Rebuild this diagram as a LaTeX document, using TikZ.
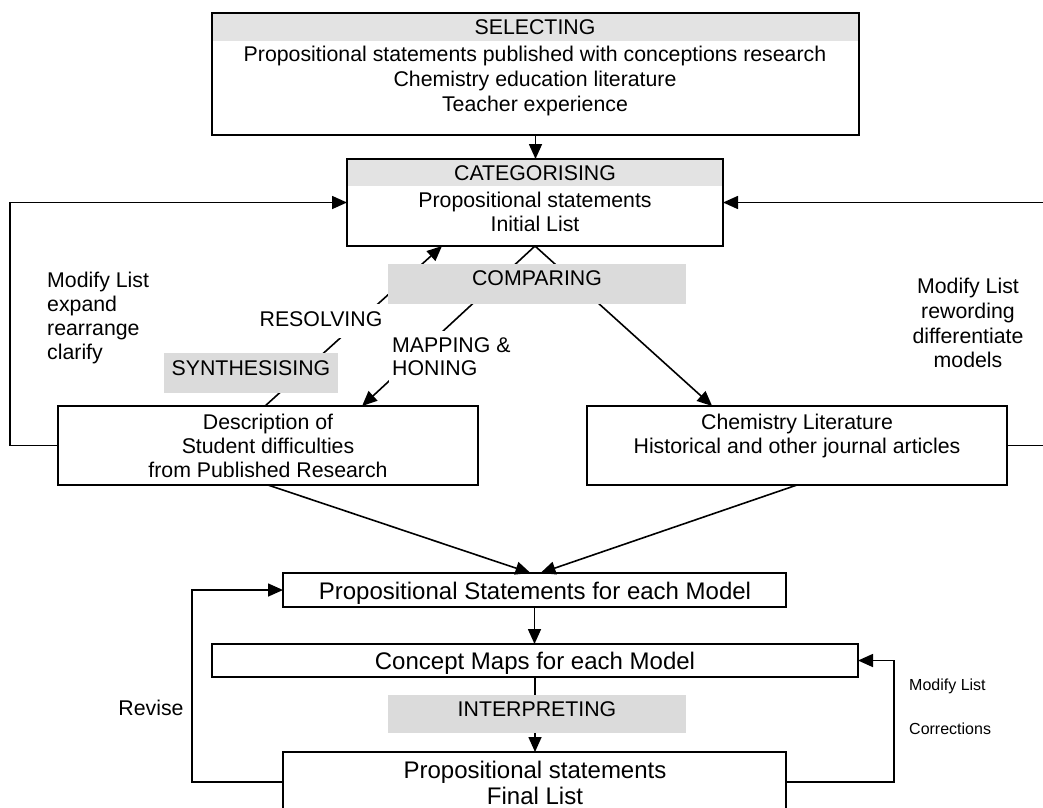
\documentclass[tikz,border=0pt]{standalone}
\usepackage{fontspec}
\setmainfont{Liberation Sans}
\usetikzlibrary{arrows.meta,calc}
\begin{document}
\begin{tikzpicture}[x=1pt,y=-1pt,
  box/.style={draw, line width=2pt, inner sep=0pt, outer sep=0pt},
  band/.style={fill=black!11, draw=none},
  graybox/.style={fill=black!14, draw=none, inner sep=0pt},
  conn/.style={line width=1.6pt, -{Triangle[length=15pt,width=13pt]}},
  t/.style={font=\fontsize{21.3pt}{24pt}\selectfont, inner sep=0pt, anchor=base},
  tb/.style={font=\fontsize{24pt}{27pt}\selectfont, inner sep=0pt, anchor=base},
  ts/.style={font=\fontsize{16pt}{19pt}\selectfont, inner sep=0pt, anchor=base west},
  mask/.style={fill=white, inner xsep=3pt, inner ysep=5pt}]
\useasboundingbox (0,0) rectangle (1043,807);
\fill[white] (0,0) rectangle (1043,807);

% boxes
\node[box, minimum width=647pt, minimum height=122pt] (sel) at (535.5,74) {};
\node[box, minimum width=376pt, minimum height=87pt] (cat) at (535,202.5) {};
\node[box, minimum width=420pt, minimum height=79pt] (desc) at (268,445.5) {};
\node[box, minimum width=420pt, minimum height=79pt] (chem) at (797,445.5) {};
\node[box, minimum width=503pt, minimum height=34pt] (psem) at (534.5,590) {};
\node[box, minimum width=646pt, minimum height=33pt] (cmap) at (535,660.5) {};
\node[box, minimum width=503pt, minimum height=60pt] (final) at (534.5,782) {};

% header bands
\fill[band] (sel.north west) rectangle ($(sel.north east)+(0,28)$);
\fill[band] (cat.north west) rectangle ($(cat.north east)+(0,27)$);
\draw[line width=2pt] (sel.north west) rectangle (sel.south east);
\draw[line width=2pt] (cat.north west) rectangle (cat.south east);

% connection points
\coordinate (resEnd) at ($(cat.south west)!0.2527!(cat.south east)$);
\coordinate (mapEnd) at ($(desc.north west)!0.724!(desc.north east)$);
\coordinate (chemEnd) at ($(chem.north west)!0.298!(chem.north east)$);
\coordinate (resStart) at ($(desc.north west)!0.493!(desc.north east)$);

% connectors
\draw[conn] (sel.south) -- (sel.south |- cat.north);
\draw[conn] (resStart) -- (resEnd);
\draw[conn] (cat.south) -- (mapEnd);
\draw[conn] (cat.south) -- (chemEnd);
\draw[conn] (desc.west) -- ++(-48,0) |- (cat.west);
\draw[conn] (chem.east) -- ++(39,0) |- (cat.east);
\draw[conn] (desc.south) -- ($(psem.north)+(-4,0)$);
\draw[conn] (chem.south) -- ($(psem.north)+(6,0)$);
\draw[conn] (psem.south) -- (psem.south |- cmap.north);
\draw[conn] (cmap.south) -- (cmap.south |- final.north);
\draw[conn] (final.west) -- ++(-91,0) |- (psem.west);
\draw[conn] (final.east) -- ++(108,0) |- (cmap.east);

% gray label boxes
\node[graybox, minimum width=298pt, minimum height=40pt] (cmpbox) at (537,284) {};
\node[graybox, minimum width=174pt, minimum height=40pt] (synbox) at (251,373) {};
\node[graybox, minimum width=298pt, minimum height=38pt] (intbox) at (537,714) {};

% texts
\node[t] (selA) at (535,34) {SELECTING};
\node[t] (selB) at (535,61) {Propositional statements published with conceptions research};
\node[t] (selC) at (535,86) {Chemistry education literature};
\node[t] (selD) at (535,111) {Teacher experience};

\node[t] (catA) at (535,180) {CATEGORISING};
\node[t] (catB) at (535,207.5) {Propositional statements};
\node[t] (catC) at (535,231.5) {Initial List};

\node[t, anchor=base west] (lmA) at (47,287.5) {Modify List};
\node[t, anchor=base west] (lmB) at (47,311) {expand};
\node[t, anchor=base west] (lmC) at (47,335.5) {rearrange};
\node[t, anchor=base west] (lmD) at (47,359) {clarify};

\node[t] (rmA) at (968,293.5) {Modify List};
\node[t] (rmB) at (968,318.5) {rewording};
\node[t] (rmC) at (968,343.5) {differentiate};
\node[t] (rmD) at (968,367.5) {models};

\node[t] (cmpT) at (537,285.5) {COMPARING};
\node[t, mask] (resT) at (321,326) {RESOLVING\strut};
\node[t] (synT) at (251,375.5) {SYNTHESISING};
\node[t, mask, anchor=base west] (mapA) at (389,352.5) {MAPPING \&\strut};
\node[t, mask, anchor=base west] (mapB) at (389,375.5) {HONING\strut};

\node[t] (descA) at (268,429) {Description of};
\node[t] (descB) at (268,453) {Student difficulties};
\node[t] (descC) at (268,477) {from Published Research};

\node[t] (chemA) at (797,429) {Chemistry Literature};
\node[t] (chemB) at (797,453) {Historical and other journal articles};

\node[tb] (psemT) at (535,599) {Propositional Statements for each Model};
\node[tb] (cmapT) at (535,669) {Concept Maps for each Model};
\node[t] (intT) at (537,716) {INTERPRETING};
\node[t] (revT) at (151,715.5) {Revise};
\node[tb] (finA) at (535,778) {Propositional statements};
\node[tb] (finB) at (535,804) {Final List};
\node[ts] (corA) at (909,690) {Modify List};
\node[ts] (corB) at (909,734) {Corrections};
\end{tikzpicture}
\end{document}
